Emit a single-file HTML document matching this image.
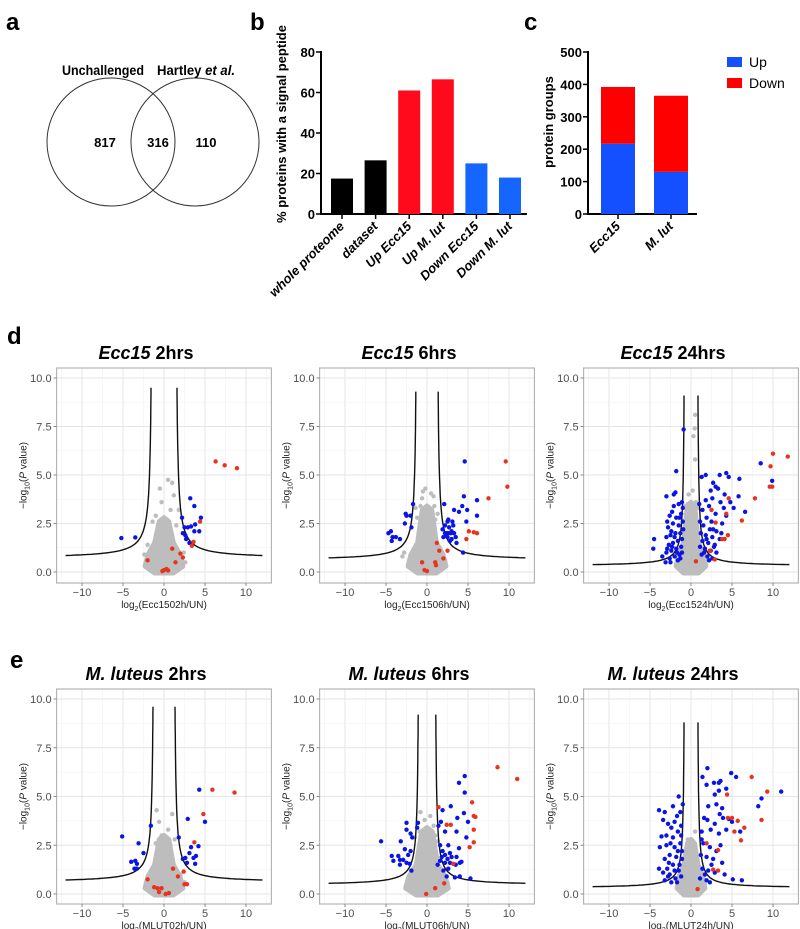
<!DOCTYPE html>
<html><head><meta charset="utf-8"><style>
body{margin:0;background:#fff}
svg{display:block;font-family:"Liberation Sans",sans-serif}
</style></head><body>
<svg id="fig" width="800" height="929" viewBox="0 0 800 929">
<g font-weight="bold" font-size="24">
<text x="6" y="30">a</text>
<text x="250" y="30">b</text>
<text x="524" y="30">c</text>
<text x="7" y="344">d</text>
<text x="10" y="668">e</text>
</g>
<g font-size="14" font-weight="bold" text-anchor="middle">
<circle cx="111" cy="142" r="64" fill="none" stroke="#333"/>
<circle cx="195" cy="142" r="64" fill="none" stroke="#333"/>
<text x="103" y="75" textLength="82" lengthAdjust="spacingAndGlyphs">Unchallenged</text>
<text x="196" y="75" textLength="78" lengthAdjust="spacingAndGlyphs">Hartley <tspan font-style="italic">et al.</tspan></text>
<text x="105" y="147" font-size="13">817</text>
<text x="158" y="147" font-size="13">316</text>
<text x="206" y="147" font-size="13">110</text>
</g>
<g id="barb"></g>
<g id="barc"></g>
<g id="volc"></g>
</svg>
<script>
const NS="http://www.w3.org/2000/svg";
function mk(p,t,a){const e=document.createElementNS(NS,t);for(const k in a)e.setAttribute(k,a[k]);p.appendChild(e);return e;}

// ---- panel b data
const bCats=["whole proteome","dataset","Up Ecc15","Up M. lut","Down Ecc15","Down M. lut"];
const bVals=[17.5,26.5,61,66.5,25,18];
const bColors=["#000","#000","#ff0a1c","#ff0a1c","#1565ff","#1565ff"];
const bTicks=[0,20,40,60,80];
// ---- panel c data
const cCats=["Ecc15","M. lut"];
const cUp=[217,130];
const cDown=[175,235];
const cTicks=[0,100,200,300,400,500];

(function(){
 const g=document.getElementById('barb');
 const y=v=>214-v*(162/80);
 const x=i=>342+i*33.6;
 mk(g,'line',{x1:321,y1:51,x2:321,y2:215,stroke:'#000','stroke-width':2});
 mk(g,'line',{x1:320,y1:214,x2:527,y2:214,stroke:'#000','stroke-width':2});
 bTicks.forEach(t=>{mk(g,'line',{x1:316,x2:321,y1:y(t),y2:y(t),stroke:'#000','stroke-width':1.5});
  const tx=mk(g,'text',{x:315,y:y(t)+5,'text-anchor':'end','font-size':13,'font-weight':'bold'});tx.textContent=t;
  });
 bVals.forEach((v,i)=>{const r=mk(g,'rect',{x:x(i)-11,y:y(v),width:22,height:214-y(v),fill:bColors[i]});
  
  
  mk(g,'line',{x1:x(i),x2:x(i),y1:214,y2:219,stroke:'#000','stroke-width':1.5});
  const t=mk(g,'text',{x:x(i)+3,y:227,'text-anchor':'end','font-size':13,'font-weight':'bold','font-style':'italic',transform:`rotate(-45 ${x(i)+3} 227)`});
  t.textContent=bCats[i];
  
  });
 const yt=mk(g,'text',{x:0,y:0,transform:'translate(286 124) rotate(-90)','text-anchor':'middle','font-size':13,'font-weight':'bold'});
 yt.textContent='% proteins with  a signal peptide';
 
 
})();

(function(){
 const g=document.getElementById('barc');
 const y=v=>214-v*(162/500);
 const x=i=>618+i*53;
 mk(g,'line',{x1:588,y1:51,x2:588,y2:215,stroke:'#000','stroke-width':2});
 mk(g,'line',{x1:587,y1:214,x2:697,y2:214,stroke:'#000','stroke-width':2});
 cTicks.forEach(t=>{mk(g,'line',{x1:583,x2:588,y1:y(t),y2:y(t),stroke:'#000','stroke-width':1.5});
  const tx=mk(g,'text',{x:582,y:y(t)+5,'text-anchor':'end','font-size':13,'font-weight':'bold'});tx.textContent=t;
  });
 cCats.forEach((c,i)=>{
  const r1=mk(g,'rect',{x:x(i)-17,y:y(cUp[i]),width:34,height:214-y(cUp[i]),fill:'#1450ff'});
  
  
  const r2=mk(g,'rect',{x:x(i)-17,y:y(cUp[i]+cDown[i]),width:34,height:y(cUp[i])-y(cUp[i]+cDown[i]),fill:'#ff0000'});
  
  
  mk(g,'line',{x1:x(i),x2:x(i),y1:214,y2:219,stroke:'#000','stroke-width':1.5});
  const t=mk(g,'text',{x:x(i)+3,y:227,'text-anchor':'end','font-size':13,'font-weight':'bold','font-style':'italic',transform:`rotate(-45 ${x(i)+3} 227)`});
  t.textContent=c;
  
  });
 const yt=mk(g,'text',{x:0,y:0,transform:'translate(553 122) rotate(-90)','text-anchor':'middle','font-size':13,'font-weight':'bold'});
 yt.textContent='protein groups';
 
 
 const l1=mk(g,'rect',{x:727,y:57,width:15,height:10,fill:'#1450ff'});
 
 const l2=mk(g,'rect',{x:727,y:78,width:15,height:10,fill:'#ff0000'});
 
 const t1=mk(g,'text',{x:749,y:67,'font-size':14});t1.textContent='Up';
 
 const t2=mk(g,'text',{x:749,y:88,'font-size':14});t2.textContent='Down';
 
})();

// ---- volcano data: flat [x,y,...] lists
const vTitles=[["Ecc15"," 2hrs"],["Ecc15"," 6hrs"],["Ecc15"," 24hrs"],["M. luteus"," 2hrs"],["M. luteus"," 6hrs"],["M. luteus"," 24hrs"]];
const vXLabels=["Ecc1502h/UN","Ecc1506h/UN","Ecc1524h/UN","MLUT02h/UN","MLUT06h/UN","MLUT24h/UN"];
const xTicks=[-10,-5,0,5,10];
const yTicks=[0,2.5,5,7.5,10];
const yTickLabels=["0.0","2.5","5.0","7.5","10.0"];
const curveParams=[[1.4,0.7,1.6,9.5],[1.2,0.6,1.4,9.3],[0.75,0.3,0.9,9.1],[1.2,0.6,1.3,9.6],[0.95,0.45,1.1,9.2],[0.75,0.3,0.85,8.8]];
const coreShape=[[2.3,2.6],[2.3,3.2],[1.8,3.4],[2.3,2.8],[2.6,3.2],[1.7,2.6]];
const blue=[
[-5.2,1.75,-3.5,1.78,3.2,3.8,3.7,3.4,4.5,2.8,2.2,2.8,2.5,2.3,2.9,2.3,3.3,2.35,3.8,2.45,2.6,1.9,3.7,2.1,4.3,2.1,2.7,1.7,3.1,1.5,2.3,2.0],
[-4.7,2.0,-4.4,2.1,-4.2,1.8,-4.3,1.6,-3.8,1.8,-3.3,1.7,-2.6,3.0,-2.5,2.9,-2.7,2.5,-2.0,2.9,-1.7,3.5,-1.9,2.3,4.6,5.7,4.5,3.9,6.1,3.7,2.1,3.5,4.3,3.4,3.9,3.1,4.9,3.2,6.1,2.9,3.3,3.2,2.6,2.7,2.5,2.6,3.1,2.6,3.2,2.4,4.8,2.6,2.2,2.4,2.7,2.3,2.2,2.0,2.4,2.0,2.6,2.0,2.9,2.0,3.0,2.1,3.3,2.0,2.0,1.8,2.5,1.8,3.0,1.7,3.5,1.8,2.8,1.6,3.6,1.5,4.4,1.0,1.9,2.2],
[-0.9,7.35,-1.8,5.2,-1.9,4.1,-2.1,4.0,-3.0,3.9,-1.1,3.6,-1.5,3.5,-2.3,3.1,-2.6,2.9,-1.2,3.0,-1.8,2.8,-2.2,2.5,-1.5,2.4,-1.0,2.6,-2.8,2.3,-1.3,2.0,-1.9,2.0,-2.5,1.9,-3.0,1.8,-1.1,1.7,-1.6,1.6,-2.2,1.5,-2.7,1.4,-1.2,1.3,-1.8,1.2,-2.4,1.1,-3.0,1.0,-1.4,0.9,-2.0,0.8,-2.6,0.7,-4.5,1.7,-4.6,1.2,-3.5,0.8,-1.6,0.6,-1.1,1.0,-2.1,3.4,-1.4,2.8,-2.5,0.5,-3.1,0.5,-0.95,2.2,-1.0,3.3,-2.0,1.8,-2.9,2.6,-2.3,1.3,-1.7,1.0,-2.9,1.2,-1.3,0.7,-2.4,2.1,
 1.8,5.0,1.3,4.9,3.5,5.0,4.3,5.1,4.6,4.9,5.9,4.8,3.0,4.4,2.7,4.6,2.4,4.2,3.3,4.3,2.6,3.8,4.1,4.0,1.8,3.7,3.6,3.6,2.2,3.4,4.8,3.6,5.8,3.9,6.6,3.1,3.0,3.0,1.4,3.2,1.9,2.8,2.5,2.6,3.8,2.5,1.5,2.4,2.3,2.2,3.1,2.1,1.2,2.0,1.8,1.9,2.6,1.8,3.5,1.7,1.4,1.6,2.1,1.5,2.9,1.4,1.1,1.3,1.7,1.2,2.4,1.1,3.1,1.0,1.3,0.9,2.0,0.8,2.6,0.7,4.3,2.9,4.0,3.3,5.2,3.3,8.5,5.6,9.9,4.7,3.7,2.0,1.1,2.6,1.0,3.5,2.8,1.3,1.6,1.0,2.2,0.6,2.7,2.2,1.9,1.7],
[-5.1,2.95,-3.1,2.6,-4.0,1.65,-3.5,1.7,-3.3,1.55,-3.6,1.3,-3.3,1.3,-2.5,2.1,-1.6,3.5,4.3,5.35,5.0,3.7,2.9,3.85,1.8,2.9,3.3,2.4,4.2,2.45,3.1,2.1,3.9,1.95,2.6,1.85,3.6,1.85,2.3,1.8,2.8,1.6,3.8,1.55],
[-5.6,2.7,-3.2,2.7,-2.5,3.65,-1.1,3.65,-2.5,3.3,-1.2,3.4,-2.0,3.1,-1.8,2.9,-2.7,2.3,-2.3,2.0,-2.0,2.2,-4.3,1.95,-3.5,1.95,-3.3,1.75,-4.1,1.7,-2.9,1.75,-2.5,1.6,-3.3,1.5,-2.1,1.55,-1.9,1.2,4.6,6.05,3.9,5.7,4.6,5.2,2.9,4.5,1.9,4.3,4.5,4.15,3.7,3.9,1.7,3.7,1.4,3.5,5.0,3.7,2.2,3.2,3.6,3.2,1.6,2.5,2.6,2.5,3.9,2.35,4.8,2.9,1.9,2.2,2.2,2.0,2.8,2.1,1.8,1.9,2.5,1.8,3.0,1.9,3.6,1.9,1.6,1.7,2.2,1.6,2.8,1.6,3.5,1.5,4.0,1.6,4.2,1.65,2.0,1.2,2.6,1.3,3.4,0.85,4.0,0.9,5.3,0.8,1.3,1.5,2.4,0.9],
[-3.9,4.3,-3.2,4.2,-2.2,4.5,-1.5,5.0,-1.7,4.0,-3.4,3.8,-2.8,3.6,-3.0,3.0,-2.2,2.9,-3.6,2.95,-1.2,3.5,-1.6,3.2,-2.4,3.4,-3.0,2.5,-2.0,2.4,-1.3,2.6,-3.8,2.4,-2.6,2.0,-1.8,1.9,-3.2,1.8,-1.1,1.8,-2.2,1.5,-2.9,1.3,-3.9,1.3,-1.5,1.2,-2.6,1.0,-1.9,0.8,-3.2,0.7,-1.2,0.9,-2.4,0.6,-1.0,4.6,-1.1,2.2,-1.4,1.5,-2.0,3.7,-2.7,1.6,-1.3,4.2,-2.5,2.6,-1.6,2.2,-2.8,0.9,-1.7,0.6,-1.2,3.0,-3.4,1.1,-2.0,1.2,
 2.0,6.45,2.8,5.7,3.4,5.7,4.3,5.4,5.5,6.0,4.9,6.2,3.6,5.8,1.4,6.0,2.9,5.1,3.4,5.3,1.9,5.6,2.1,4.5,3.1,4.6,3.8,4.4,3.5,4.1,2.0,3.8,1.6,3.9,2.9,3.6,3.9,3.9,4.6,3.85,5.0,3.7,1.3,3.2,2.4,3.3,3.4,3.1,4.3,3.3,6.0,3.2,1.5,2.6,2.3,2.4,3.1,2.2,3.6,2.5,1.2,2.0,1.9,1.9,2.7,1.8,3.8,1.6,1.4,1.3,2.1,1.2,2.9,1.1,4.1,1.0,1.1,0.8,1.9,0.7,5.1,0.75,6.2,0.7,8.6,4.9,8.2,4.5,11.0,5.25,1.3,2.8,2.5,1.5,1.7,1.0,2.3,0.6]
];
const red=[
[6.3,5.7,7.4,5.5,8.9,5.35,4.4,2.6,3.6,1.55,3.4,1.35,1.0,1.2,2.0,0.95,2.3,0.75,1.4,0.5,-2.0,0.6,0,0.1,0.3,0.15,-0.2,0.05,0.5,0.08],
[9.6,5.7,9.8,4.4,7.5,3.8,5.1,2.1,5.7,2.05,6.1,2.0,4.8,1.7,1.2,1.5,1.5,1.1,2.0,0.7,2.5,1.1,-0.6,0.5,1.0,0.5,1.1,0.35,-0.3,0.1,0,0.05],
[10.0,6.1,11.8,5.95,9.7,5.45,9.6,4.4,9.9,4.4,7.8,3.8,4.6,3.8,2.5,3.2,4.3,3.0,6.2,2.65,3.0,2.55,4.5,1.9,4.1,1.7,3.8,1.7,2.3,1.1,2.9,0.65,0.6,0.55],
[5.9,5.35,8.6,5.2,4.8,4.1,3.7,2.65,2.4,1.15,1.1,1.3,1.7,0.9,2.5,0.5,2.8,0.5,-2.0,0.75,-1.2,0.35,-0.8,0.3,-0.3,0.3,-0.6,0.1,0.2,0.0,0.6,0.05],
[8.6,6.5,11.0,5.9,5.5,4.7,5.7,4.0,5.9,3.95,5.7,3.3,5.7,2.65,5.2,2.4,1.4,4.45,2.4,3.55,2.9,3.55,3.2,1.55,2.1,0.55,1.0,0.3,-0.1,0.0],
[7.4,6.0,9.3,5.25,4.4,5.1,4.5,3.9,5.0,3.9,5.7,3.75,6.5,3.4,5.3,3.2,6.1,2.75,8.6,3.8,3.3,2.25,2.7,1.25,3.3,1.2,0.8,0.25,1.9,2.6]
];
const gray=[
[0.5,4.75,1.0,4.6,-0.5,4.3,1.2,3.95,-1.0,2.9,0.8,3.2,-0.3,3.6,1.8,3.2,-1.4,2.6,1.5,2.4,2.4,1.0,-2.4,0.9,2.6,0.5,-2.0,1.4],
[-0.2,4.3,-0.5,4.15,0.5,4.05,0.8,3.9,-0.6,3.8,-1.4,3.3,-0.8,3.4,0.9,3.4,1.3,3.0,-1.2,2.8,1.0,2.7,-2.8,1.0,-3.0,0.8,2.2,0.6,-2.1,0.5],
[0.5,8.1,0.45,7.4,0.3,7.0,0.5,5.8,0.2,4.2,-0.3,4.0,0.6,3.6,-0.4,3.5,0.9,3.3,-0.7,3.4],
[-0.9,4.3,1.0,4.1,-0.6,3.7,0.5,3.3,1.3,2.8,-1.0,2.6,2.5,0.6,2.0,1.0,-0.3,3.0,0.8,2.5],
[-0.8,4.2,0.4,4.0,-0.3,3.8,0.8,3.5,-1.5,2.9,1.0,3.0,-2.2,0.8,2.5,0.6,-0.9,3.2,1.3,2.7],
[0.3,2.5,0.5,3.2,0.2,2.0,-0.4,2.8,0.6,1.8]
];
// layout (positions; not data)
const zeroX=[164,427,691], zeroY=[572,894], topY=[368,689], botY=[583,904], titleY=[359,680];

(function(){
 const root=document.getElementById('volc');
 for(let p=0;p<6;p++){
  const col=p%3,row=Math.floor(p/3);
  const g=mk(root,'g',{});
  
  
  const sx=8.2, sy=(zeroY[row]-(row?699:378))/10;
  const X=v=>zeroX[col]+v*sx, Y=v=>zeroY[row]-v*sy;
  const L=X(-13.1),R=X(13.1),T=topY[row],B=botY[row];
  const clipId='clip'+p;
  const cp=mk(g,'clipPath',{id:clipId});mk(cp,'rect',{x:L,y:T,width:R-L,height:B-T});
  for(let v=-12.5;v<=12.5;v+=2.5){const maj=Math.abs(v%5)<0.01;
   mk(g,'line',{x1:X(v),x2:X(v),y1:T,y2:B,stroke:maj?'#e6e6e6':'#f2f2f2','stroke-width':maj?1:0.6});}
  for(let v=-1.25+2.5;v<=10.2;v+=1.25){const maj=Math.abs((v/2.5)-Math.round(v/2.5))<0.01;
   mk(g,'line',{x1:L,x2:R,y1:Y(v),y2:Y(v),stroke:maj?'#e6e6e6':'#f2f2f2','stroke-width':maj?1:0.6});}
  mk(g,'line',{x1:L,x2:R,y1:Y(0),y2:Y(0),stroke:'#e6e6e6'});
  const pg=mk(g,'g',{'clip-path':`url(#${clipId})`});
  const [w0,h]=coreShape[p];
  const cs=[[-w0,0.3],[-w0*0.85,0.9],[-w0*0.5,1.5],[-w0*0.25,h],[0,h+0.2],[w0*0.25,h],[w0*0.5,1.5],[w0*0.85,0.9],[w0,0.3],[w0*0.5,-0.05],[-w0*0.5,-0.05]];
  const core=mk(pg,'path',{d:'M'+cs.map(q=>X(q[0]).toFixed(1)+','+Y(q[1]).toFixed(1)).join('L')+'Z',fill:'#bdbdbd',stroke:'#bdbdbd','stroke-width':5,'stroke-linejoin':'round'});
  
  
  const dots=(arr,color,nm)=>{for(let i=0;i<arr.length;i+=2){const c=mk(pg,'circle',{cx:X(arr[i]),cy:Y(arr[i+1]),r:2.2,fill:color});
   
   }};
  dots(gray[p],'#bdbdbd','nonsignificant-point');
  const [x0,a,b,top]=curveParams[p];
  [-1,1].forEach(s=>{const pts=[];const xs=x0+b/(top-a);
   for(let t=0;t<=60;t++){const ax=xs+(12-xs)*Math.pow(t/60,2.2);pts.push([s*ax,a+b/(ax-x0)]);}
   const c=mk(pg,'path',{d:'M'+pts.map(q=>X(q[0]).toFixed(1)+','+Y(q[1]).toFixed(1)).join('L'),fill:'none',stroke:'#111','stroke-width':1.4});
   
   });
  dots(blue[p],'#0a14e6','significant-point');
  dots(red[p],'#e8331e','highlighted-point');
  mk(g,'rect',{x:L,y:T,width:R-L,height:B-T,fill:'none',stroke:'#b5b5b5','stroke-width':1.2});
  xTicks.forEach(t=>{mk(g,'line',{x1:X(t),x2:X(t),y1:B,y2:B+3,stroke:'#888'});
   const tx=mk(g,'text',{x:X(t),y:B+13,'text-anchor':'middle','font-size':11,fill:'#4d4d4d'});tx.textContent=(t<0?'\u2212':'')+Math.abs(t);
   });
  yTicks.forEach((t,i)=>{mk(g,'line',{x1:L-3,x2:L,y1:Y(t),y2:Y(t),stroke:'#888'});
   const tx=mk(g,'text',{x:L-5,y:Y(t)+4,'text-anchor':'end','font-size':11,fill:'#4d4d4d'});tx.textContent=yTickLabels[i];
   });
  const xl=mk(g,'text',{x:(L+R)/2,y:B+25,'text-anchor':'middle','font-size':10,fill:'#222'});
  xl.innerHTML='log<tspan font-size="7" dy="3">2</tspan><tspan dy="-3">('+vXLabels[p]+')</tspan>';
  
  
  const yx=L-30,yy=(T+B)/2;
  const yl=mk(g,'text',{x:0,y:0,transform:`translate(${yx} ${yy}) rotate(-90)`,'text-anchor':'middle','font-size':10,fill:'#222'});
  yl.innerHTML='\u2212log<tspan font-size="7" dy="3">10</tspan><tspan dy="-3">(</tspan><tspan font-style="italic">P</tspan> value)';
  
  
  const tt=mk(g,'text',{x:zeroX[col]-18,y:titleY[row],'text-anchor':'middle','font-size':18,'font-weight':'bold'});
  tt.innerHTML='<tspan font-style="italic">'+vTitles[p][0]+'</tspan>'+vTitles[p][1];
  
  
 }
})();
</script>
</body></html>
